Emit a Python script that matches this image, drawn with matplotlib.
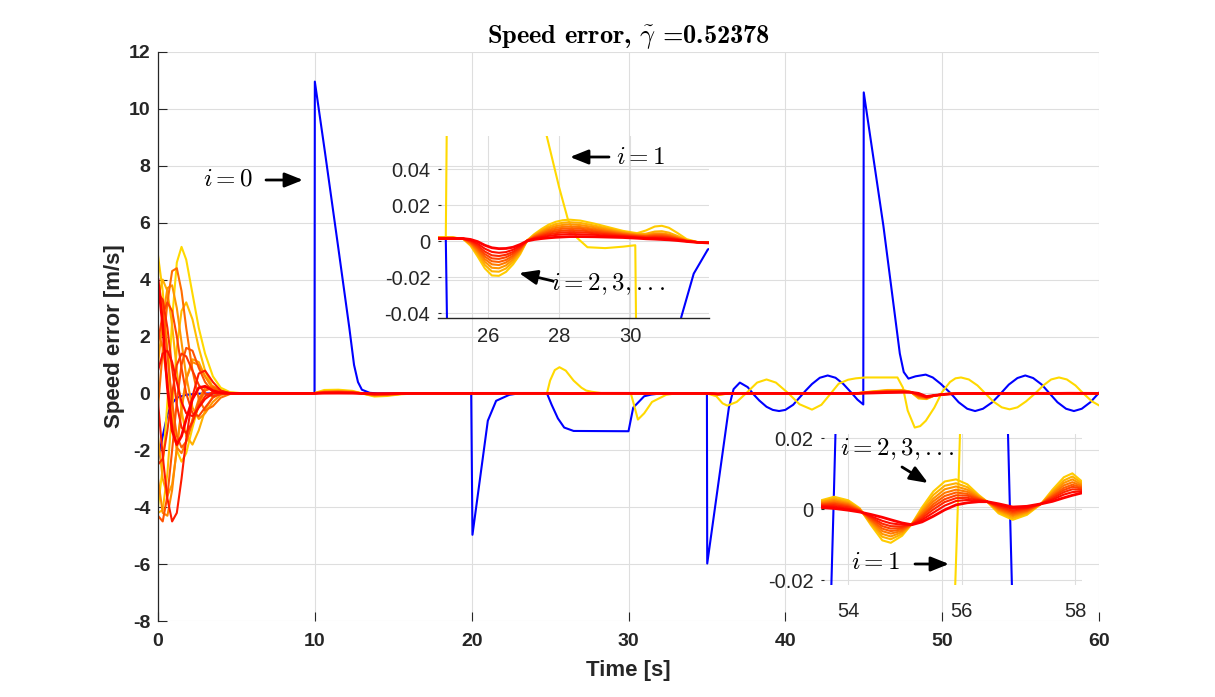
import numpy as np
import matplotlib
matplotlib.use('Agg')
import matplotlib.pyplot as plt

plt.rcParams['font.family'] = ['Liberation Sans', 'DejaVu Sans']
plt.rcParams['mathtext.fontset'] = 'cm'
plt.rcParams['axes.unicode_minus'] = False

# ---------------- data ----------------
X_TICKS = [0, 10, 20, 30, 40, 50, 60]
Y_TICKS = [-8, -6, -4, -2, 0, 2, 4, 6, 8, 10, 12]
INS1_XTICKS = [26, 28, 30]
INS1_YTICKS = [-0.04, -0.02, 0, 0.02, 0.04]
INS1_YLABELS = ['-0.04', '-0.02', '0', '0.02', '0.04']
INS2_XTICKS = [54, 56, 58]
INS2_YTICKS = [-0.02, 0, 0.02]
INS2_YLABELS = ['-0.02', '0', '0.02']

# i = 0 (blue)
BLUE_T = [0, 0.3, 0.6, 0.9, 1.2, 1.8, 2.6, 3.5,
          9.98, 10.0, 10.64, 11.5, 12.2, 12.5, 12.75, 13.0, 13.5, 14.0,
          19.97, 20.05, 21.03, 21.56, 22.4, 23.0,
          24.8, 25.1, 25.5, 25.9, 26.5, 30.0, 30.3, 31.0, 31.45, 31.8, 32.2, 33.0,
          35.0, 35.02, 36.4, 36.7, 37.1, 37.6, 38.0, 38.34, 38.8, 39.2, 39.6, 40.0,
          40.5, 40.9, 41.3, 41.7, 42.2, 42.7, 43.2, 43.7, 44.25, 44.6, 44.97,
          45.0, 46.25, 47.3, 47.55, 47.85, 48.3, 48.95, 49.4, 49.9, 50.55,
          51.05, 51.6, 52.1, 52.6, 53.2, 53.74, 54.25, 54.8, 55.3, 55.8, 56.35,
          56.85, 57.35, 57.9, 58.4, 58.9, 59.45, 60.0]
BLUE_V = [-2.35, -1.5, -0.75, -0.35, -0.15, -0.05, -0.01, 0.0,
          0.0, 10.96, 8.5, 5.1, 2.3, 1.0, 0.4, 0.13, 0.02, 0.0,
          0.0, -4.97, -0.96, -0.26, -0.05, 0.0,
          0.0015, -0.4, -0.88, -1.2, -1.32, -1.33, -0.5, -0.1, -0.042, -0.018, -0.0045, 0.0,
          0.0, -5.98, -0.5, 0.15, 0.38, 0.22, -0.05, -0.25, -0.47, -0.58, -0.62, -0.58,
          -0.4, -0.15, 0.1, 0.33, 0.55, 0.63, 0.55, 0.33, 0.0, -0.22, -0.39,
          10.58, 5.9, 1.4, 0.75, 0.52, 0.6, 0.66, 0.56, 0.34, 0.0,
          -0.31, -0.54, -0.62, -0.54, -0.31, 0.0, 0.31, 0.54, 0.63, 0.54, 0.31,
          0.0, -0.31, -0.54, -0.62, -0.54, -0.31, 0.02]

# i = 1 (yellow)
YEL_T = [0, 0.3, 0.6, 0.9, 1.2, 1.5, 1.8, 2.2, 2.6, 3.0, 3.5, 4.0, 4.6, 5.5,
         9.9, 10.6, 11.5, 12.4, 13.0, 13.8, 14.6, 15.5, 16.5,
         24.0, 24.8, 25.0, 25.3, 25.6, 26.0, 26.5, 27.0, 27.3, 27.65, 28.0, 28.25,
         28.5, 28.8, 29.3, 29.8, 30.15, 30.3, 30.6, 31.0, 31.5, 32.4, 33.0,
         35.0, 35.6, 36.0, 36.3, 36.9, 37.55, 38.2, 38.8, 39.4, 40.2, 40.9, 41.7,
         42.3, 42.9, 43.4, 44.0, 44.5, 45.1,
         47.15, 47.5, 47.8, 48.25, 48.6, 48.96, 49.5, 50.0, 50.5, 50.85, 51.2,
         51.7, 52.25, 52.75, 53.25, 53.8, 54.3, 54.8, 55.35, 55.93, 56.45, 56.95,
         57.45, 57.95, 58.5, 59.0, 59.55, 60.0]
YEL_V = [-4.0, -2.6, -0.3, 2.6, 4.6, 5.15, 4.7, 3.5, 2.3, 1.4, 0.6, 0.2, 0.04, 0.0,
         0.0, 0.12, 0.13, 0.09, 0.0, -0.11, -0.09, -0.03, 0.0,
         0.002, 0.002, 0.45, 0.82, 0.92, 0.8, 0.45, 0.2, 0.1, 0.0585, 0.03, 0.012,
         0.002, -0.0033, -0.0038, -0.003, -0.0022, -0.3, -0.92, -0.7, -0.3, -0.05, 0.0,
         0.0, -0.1, -0.35, -0.43, -0.3, 0.03, 0.38, 0.49, 0.38, 0.0, -0.38, -0.57,
         -0.4, 0.0, 0.34, 0.48, 0.53, 0.56,
         0.56, 0.2, -0.6, -1.2, -1.15, -0.96, -0.5, 0.05, 0.4, 0.53, 0.56,
         0.49, 0.28, 0.0, -0.28, -0.49, -0.56, -0.49, -0.28, 0.0, 0.28, 0.49,
         0.56, 0.49, 0.28, 0.0, -0.28, -0.42]

# i = 2, 3, ... : start-up transient (0 - 5.5 s), lightest first, red last
T0 = [0, 0.3, 0.6, 0.9, 1.2, 1.5, 1.8, 2.2, 2.6, 3.0, 3.5, 4.0, 4.6, 5.5]
STARTUP = [
    [4.85, 3.6, 1.5, -0.6, -2.0, -2.4, -2.1, -1.2, -0.4, 0.1, 0.25, 0.12, 0.02, 0],
    [-4.2, -4.1, -2.8, -0.6, 1.6, 2.9, 3.2, 2.6, 1.6, 0.8, 0.2, 0.02, 0, 0],
    [3.4, 4.0, 3.6, 2.4, 0.8, -0.6, -1.5, -1.8, -1.3, -0.6, -0.1, 0.05, 0.02, 0],
    [-1.5, -3.0, -3.6, -3.2, -2.0, -0.6, 0.5, 1.2, 1.1, 0.6, 0.15, 0.0, 0, 0],
    [1.0, 2.6, 3.7, 3.8, 3.0, 1.8, 0.6, -0.5, -0.9, -0.7, -0.3, -0.05, 0, 0],
    [-3.0, -4.2, -4.3, -3.4, -1.9, -0.5, 0.5, 1.1, 1.0, 0.6, 0.2, 0.02, 0, 0],
    [2.2, 1.6, 0.4, -1.0, -1.9, -2.1, -1.7, -0.9, -0.2, 0.2, 0.25, 0.08, 0, 0],
    [-0.5, 1.5, 3.2, 4.3, 4.4, 3.6, 2.3, 0.8, -0.2, -0.6, -0.45, -0.15, -0.02, 0],
    [4.0, 3.0, 1.4, -0.3, -1.5, -1.9, -1.7, -1.0, -0.3, 0.1, 0.2, 0.08, 0.01, 0],
    [-4.3, -4.5, -3.6, -2.0, -0.3, 1.0, 1.6, 1.5, 0.9, 0.4, 0.05, -0.02, 0, 0],
    [1.8, 2.8, 3.2, 2.9, 2.0, 0.9, 0.0, -0.7, -0.8, -0.5, -0.15, 0, 0, 0],
    [-2.5, -2.3, -1.3, 0.0, 1.0, 1.4, 1.3, 0.8, 0.3, 0.0, -0.1, -0.03, 0, 0],
    [3.5, 3.3, 2.3, 0.9, -0.4, -1.2, -1.4, -1.0, -0.45, -0.1, 0.05, 0.02, 0, 0],
    [-0.3, -2.2, -3.7, -4.5, -4.2, -3.0, -1.6, -0.1, 0.7, 0.8, 0.4, 0.1, 0, 0],
    [0.8, 1.4, 1.5, 1.1, 0.4, -0.3, -0.7, -0.8, -0.5, -0.2, 0.0, 0.02, 0, 0],
    [4.0, 2.4, 0.2, -1.3, -1.8, -1.5, -0.9, -0.2, 0.2, 0.25, 0.1, 0.02, 0, 0],
]
# which start-up curves continue after 9.9 s (columns of LATE_V)
LATE_MAP = [0, 2, 4, 6, 8, 10, 12, 14, 15]
LATE_T = [9.9, 10.6, 11.5, 12.4, 13.0, 13.8, 14.6, 15.5, 16.5, 24.0,
          25.0, 25.3, 25.5, 25.7, 25.9, 26.1, 26.3, 26.5, 26.7, 26.9, 27.1, 27.3,
          27.5, 27.7, 27.9, 28.1, 28.3, 28.6, 29.0, 29.4, 29.8, 30.2, 30.45, 30.7,
          30.9, 31.1, 31.35, 31.6, 31.9, 32.3,
          35.0, 35.7, 36.5, 44.5, 45.2, 46.5, 47.5, 48.0, 48.5, 49.0, 49.5, 50.2, 51.0,
          53.5, 53.75, 54.0, 54.2, 54.4, 54.6, 54.75, 54.95, 55.12, 55.3, 55.5, 55.7,
          55.9, 56.1, 56.3, 56.45, 56.65, 56.9, 57.15, 57.4, 57.6, 57.8, 57.95, 58.15,
          60.0]
LATE_V = [
    [0, 0, 0, 0, 0, 0, 0, 0, 0],
    [0.080, 0.069, 0.060, 0.051, 0.043, 0.035, 0.027, 0.019, 0.008],
    [0.100, 0.087, 0.075, 0.064, 0.054, 0.044, 0.034, 0.024, 0.010],
    [0.070, 0.061, 0.052, 0.045, 0.038, 0.031, 0.024, 0.016, 0.007],
    [0, 0, 0, 0, 0, 0, 0, 0, 0],
    [-0.090, -0.078, -0.067, -0.058, -0.049, -0.040, -0.031, -0.021, -0.009],
    [-0.070, -0.061, -0.052, -0.045, -0.038, -0.031, -0.024, -0.016, -0.007],
    [-0.020, -0.017, -0.015, -0.013, -0.011, -0.009, -0.007, -0.005, -0.002],
    [0, 0, 0, 0, 0, 0, 0, 0, 0],
    [0.0021, 0.0020, 0.0020, 0.0019, 0.0018, 0.0018, 0.0017, 0.0016, 0.0015],
    # inset 1 window
    [0.0022, 0.0021, 0.0020, 0.0019, 0.0018, 0.0018, 0.0017, 0.0016, 0.0015],
    [0.0012, 0.0012, 0.0013, 0.0013, 0.0014, 0.0014, 0.0014, 0.0015, 0.0015],
    [-0.0025, -0.0020, -0.0015, -0.0011, -0.0007, -0.0003, 0.0001, 0.0005, 0.0010],
    [-0.0085, -0.0073, -0.0062, -0.0052, -0.0043, -0.0034, -0.0024, -0.0014, -0.0002],
    [-0.0150, -0.0131, -0.0114, -0.0099, -0.0085, -0.0071, -0.0057, -0.0041, -0.0022],
    [-0.0190, -0.0167, -0.0147, -0.0128, -0.0111, -0.0095, -0.0078, -0.0059, -0.0036],
    [-0.0192, -0.0169, -0.0150, -0.0132, -0.0115, -0.0098, -0.0082, -0.0064, -0.0041],
    [-0.0170, -0.0151, -0.0134, -0.0118, -0.0104, -0.0089, -0.0075, -0.0060, -0.0040],
    [-0.0128, -0.0114, -0.0101, -0.0090, -0.0080, -0.0069, -0.0059, -0.0047, -0.0033],
    [-0.0072, -0.0064, -0.0057, -0.0050, -0.0044, -0.0039, -0.0033, -0.0026, -0.0018],
    [0.0005, 0.0005, 0.0004, 0.0004, 0.0004, 0.0003, 0.0003, 0.0003, 0.0002],
    [0.0040, 0.0036, 0.0032, 0.0028, 0.0025, 0.0021, 0.0018, 0.0015, 0.0010],
    [0.0068, 0.0060, 0.0053, 0.0047, 0.0041, 0.0035, 0.0029, 0.0023, 0.0015],
    [0.0092, 0.0081, 0.0072, 0.0063, 0.0055, 0.0047, 0.0039, 0.0030, 0.0019],
    [0.0108, 0.0095, 0.0084, 0.0074, 0.0064, 0.0055, 0.0045, 0.0035, 0.0022],
    [0.0117, 0.0103, 0.0091, 0.0080, 0.0070, 0.0059, 0.0049, 0.0038, 0.0024],
    [0.0120, 0.0106, 0.0094, 0.0082, 0.0072, 0.0062, 0.0051, 0.0040, 0.0026],
    [0.0115, 0.0102, 0.0090, 0.0079, 0.0070, 0.0060, 0.0050, 0.0039, 0.0026],
    [0.0098, 0.0087, 0.0078, 0.0069, 0.0061, 0.0053, 0.0045, 0.0036, 0.0025],
    [0.0078, 0.0070, 0.0063, 0.0056, 0.0050, 0.0044, 0.0038, 0.0031, 0.0023],
    [0.0058, 0.0052, 0.0048, 0.0043, 0.0039, 0.0035, 0.0031, 0.0027, 0.0021],
    [0.0045, 0.0041, 0.0037, 0.0034, 0.0031, 0.0028, 0.0025, 0.0021, 0.0017],
    [0.0060, 0.0042, 0.0035, 0.0031, 0.0028, 0.0025, 0.0021, 0.0018, 0.0014],
    [0.0082, 0.0054, 0.0044, 0.0038, 0.0033, 0.0028, 0.0023, 0.0018, 0.0012],
    [0.0086, 0.0056, 0.0044, 0.0038, 0.0033, 0.0027, 0.0022, 0.0017, 0.0010],
    [0.0075, 0.0048, 0.0038, 0.0033, 0.0028, 0.0023, 0.0019, 0.0014, 0.0008],
    [0.0045, 0.0029, 0.0022, 0.0019, 0.0016, 0.0013, 0.0011, 0.0008, 0.0004],
    [0.0012, 0.0007, 0.0005, 0.0004, 0.0003, 0.0002, 0.0001, 0.0000, -0.0001],
    [-0.0004, -0.0004, -0.0005, -0.0005, -0.0005, -0.0005, -0.0005, -0.0006, -0.0006],
    [-0.0007, -0.0007, -0.0008, -0.0008, -0.0008, -0.0009, -0.0009, -0.0009, -0.0010],
    # 35 - 51 s
    [0, 0, 0, 0, 0, 0, 0, 0, 0],
    [-0.050, -0.044, -0.039, -0.034, -0.030, -0.025, -0.021, -0.016, -0.010],
    [0, 0, 0, 0, 0, 0, 0, 0, 0],
    [0, 0, 0, 0, 0, 0, 0, 0, 0],
    [0.050, 0.044, 0.039, 0.034, 0.030, 0.025, 0.021, 0.016, 0.010],
    [0.120, 0.107, 0.095, 0.084, 0.074, 0.064, 0.054, 0.044, 0.030],
    [0.120, 0.108, 0.098, 0.088, 0.079, 0.070, 0.062, 0.052, 0.040],
    [0.050, 0.048, 0.047, 0.046, 0.045, 0.044, 0.043, 0.042, 0.040],
    [-0.180, -0.153, -0.130, -0.108, -0.088, -0.068, -0.049, -0.027, 0.000],
    [-0.200, -0.187, -0.175, -0.164, -0.154, -0.144, -0.134, -0.124, -0.110],
    [-0.080, -0.078, -0.077, -0.076, -0.075, -0.074, -0.073, -0.072, -0.070],
    [-0.020, -0.022, -0.023, -0.024, -0.025, -0.026, -0.027, -0.028, -0.030],
    [-0.005, -0.005, -0.005, -0.005, -0.005, -0.005, -0.005, -0.005, -0.005],
    # inset 2 window
    [0.0024, 0.0021, 0.0019, 0.0016, 0.0014, 0.0012, 0.0010, 0.0008, 0.0005],
    [0.0035, 0.0030, 0.0026, 0.0022, 0.0018, 0.0015, 0.0011, 0.0007, 0.0002],
    [0.0025, 0.0021, 0.0017, 0.0014, 0.0011, 0.0008, 0.0005, 0.0001, -0.0003],
    [0.0003, 0.0001, 0.0000, -0.0001, -0.0003, -0.0004, -0.0005, -0.0006, -0.0008],
    [-0.0045, -0.0041, -0.0037, -0.0033, -0.0030, -0.0026, -0.0023, -0.0020, -0.0015],
    [-0.0088, -0.0078, -0.0070, -0.0062, -0.0055, -0.0048, -0.0041, -0.0033, -0.0023],
    [-0.0095, -0.0085, -0.0077, -0.0069, -0.0062, -0.0055, -0.0048, -0.0040, -0.0030],
    [-0.0075, -0.0070, -0.0065, -0.0061, -0.0057, -0.0053, -0.0049, -0.0044, -0.0039],
    [-0.0042, -0.0042, -0.0043, -0.0043, -0.0043, -0.0043, -0.0043, -0.0044, -0.0044],
    [0.0005, -0.0001, -0.0006, -0.0011, -0.0016, -0.0020, -0.0025, -0.0030, -0.0036],
    [0.0050, 0.0040, 0.0030, 0.0022, 0.0014, 0.0007, -0.0001, -0.0010, -0.0020],
    [0.0078, 0.0066, 0.0056, 0.0046, 0.0037, 0.0028, 0.0020, 0.0010, -0.0002],
    [0.0084, 0.0073, 0.0064, 0.0055, 0.0047, 0.0039, 0.0031, 0.0023, 0.0012],
    [0.0070, 0.0062, 0.0055, 0.0049, 0.0043, 0.0038, 0.0032, 0.0026, 0.0018],
    [0.0040, 0.0037, 0.0035, 0.0032, 0.0030, 0.0028, 0.0026, 0.0024, 0.0021],
    [0.0021, 0.0021, 0.0021, 0.0021, 0.0021, 0.0021, 0.0021, 0.0021, 0.0021],
    [-0.0012, -0.0008, -0.0004, -0.0001, 0.0002, 0.0005, 0.0008, 0.0011, 0.0015],
    [-0.0030, -0.0025, -0.0020, -0.0016, -0.0012, -0.0008, -0.0004, 0.0001, 0.0006],
    [-0.0016, -0.0012, -0.0009, -0.0006, -0.0004, -0.0001, 0.0002, 0.0004, 0.0008],
    [0.0015, 0.0015, 0.0015, 0.0015, 0.0015, 0.0015, 0.0015, 0.0015, 0.0015],
    [0.0055, 0.0050, 0.0046, 0.0042, 0.0038, 0.0035, 0.0031, 0.0027, 0.0022],
    [0.0090, 0.0081, 0.0074, 0.0067, 0.0060, 0.0054, 0.0048, 0.0041, 0.0032],
    [0.0101, 0.0092, 0.0084, 0.0076, 0.0069, 0.0063, 0.0056, 0.0048, 0.0039],
    [0.0074, 0.0070, 0.0066, 0.0063, 0.0060, 0.0057, 0.0054, 0.0051, 0.0047],
    [0, 0, 0, 0, 0, 0, 0, 0, 0],
]
assert len(BLUE_T) == len(BLUE_V) and len(YEL_T) == len(YEL_V)
assert len(LATE_T) == len(LATE_V)

# ---------------- figure ----------------
W, H = 1215, 697
fig = plt.figure(figsize=(W / 100, H / 100), dpi=100)


def rect(l, t, r, b):
    return [l / W, 1 - b / H, (r - l) / W, (b - t) / H]


DARK = (0.15, 0.15, 0.15)
GRID = (0.87, 0.87, 0.87)
N = len(STARTUP)
late_arr = np.array(LATE_V)


def swarm_color(j):
    return (1.0, 0.8 * (1 - j / (N - 1)), 0.0)


def draw(a):
    a.plot(BLUE_T, BLUE_V, color=(0, 0, 1), lw=1.5)
    a.plot(YEL_T, YEL_V, color=(1, 0.85, 0), lw=1.5)
    for j in range(N):
        t = list(T0)
        v = list(STARTUP[j])
        if j in LATE_MAP:
            k = LATE_MAP.index(j)
            t += LATE_T
            v += list(late_arr[:, k])
        a.plot(t, v, color=swarm_color(j), lw=2.0 if j == N - 1 else 1.5,
               solid_joinstyle='round')


ax = fig.add_axes(rect(158, 52, 1099, 621))
draw(ax)
ax.set_xlim(0, 60)
ax.set_ylim(-8, 12)
ax.set_xticks(X_TICKS)
ax.set_yticks(Y_TICKS)
ax.grid(True, color=GRID, lw=0.8)
ax.set_axisbelow(True)
for s in ['top', 'right', 'bottom']:
    ax.spines[s].set_visible(False)
ax.spines['left'].set_color(DARK)
ax.spines['left'].set_linewidth(0.9)
ax.tick_params(direction='in', length=6.5, width=0.8, color=DARK, labelcolor=DARK,
               labelsize=14)
ax.tick_params(axis='x', pad=9)
ax.tick_params(axis='y', pad=5.5)
for lab in ax.get_xticklabels() + ax.get_yticklabels():
    lab.set_fontweight('bold')
ax.set_xlabel('Time [s]', fontsize=16, fontweight='bold', color=DARK, labelpad=7)
ax.set_ylabel('Speed error [m/s]', fontsize=16, fontweight='bold', color=DARK, labelpad=3)
ax.set_title(r'Speed error, $\tilde{\gamma}$ =0.52378', fontfamily='cmb10',
             fontsize=19, pad=5)


def style_inset(a, xt, yt, ylab, xpad):
    a.set_facecolor('none')
    a.set_xticks(xt)
    a.set_xticklabels([str(v) for v in xt])
    a.set_yticks(yt)
    a.set_yticklabels(ylab)
    a.grid(True, color=GRID, lw=0.8)
    a.set_axisbelow(True)
    for s in ['top', 'right', 'left', 'bottom']:
        a.spines[s].set_visible(False)
    a.tick_params(direction='in', length=2.5, width=0.8, color=DARK, labelcolor=DARK,
                  labelsize=14.5)
    a.tick_params(axis='x', pad=xpad, length=0)
    a.tick_params(axis='y', pad=5.5)


ins1 = fig.add_axes(rect(438, 136, 709.3, 318.3))
draw(ins1)
ins1.set_xlim(24.58, 32.24)
ins1.set_ylim(-0.0428, 0.0585)
style_inset(ins1, INS1_XTICKS, INS1_YTICKS, INS1_YLABELS, 6.5)
ins1.spines['bottom'].set_visible(True)
ins1.spines['bottom'].set_color(DARK)
ins1.spines['bottom'].set_linewidth(1.0)

ins2 = fig.add_axes(rect(821, 434, 1082, 585))
draw(ins2)
ins2.set_xlim(53.52, 58.12)
ins2.set_ylim(-0.0214, 0.0212)
style_inset(ins2, INS2_XTICKS, INS2_YTICKS, INS2_YLABELS, 12)

# overlay for annotations (pixel coordinates, origin top-left)
ov = fig.add_axes([0, 0, 1, 1], zorder=10)
ov.set_xlim(0, W)
ov.set_ylim(H, 0)
ov.axis('off')
ov.patch.set_alpha(0)

ARROW = dict(arrowstyle='-|>,head_length=0.55,head_width=0.22', color='k', lw=2.0,
             mutation_scale=20, shrinkA=0, shrinkB=0)


def note(text, tx, ty, tail, head):
    ov.text(tx, ty, text, ha='center', va='center', fontsize=18, color='k')
    ov.annotate('', xy=head, xytext=tail, arrowprops=ARROW)


note(r'$i=0$', 228, 179, (266, 180), (303, 180))
note(r'$i=1$', 641, 157, (609, 157), (570, 157))
note(r'$i=2,3,...$', 608, 284, (553, 281), (519, 273))
note(r'$i=2,3,...$', 897, 449, (902, 467), (928, 483))
note(r'$i=1$', 876, 562, (915, 564), (949, 564))

fig.savefig('out.png', dpi=100)
